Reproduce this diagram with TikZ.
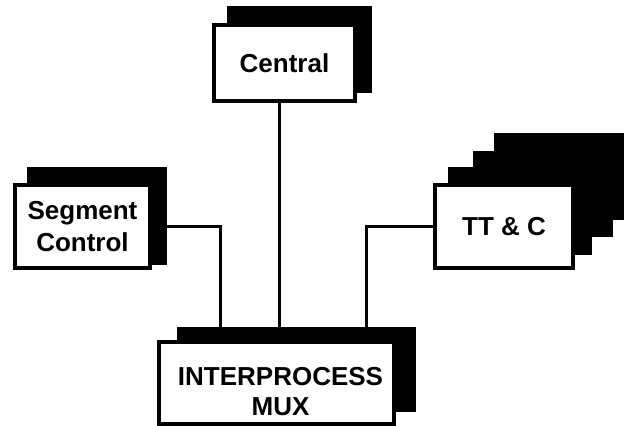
\documentclass[tikz,border=0pt]{standalone}
\usepackage{fontspec}
\setmainfont{Liberation Sans}
\usetikzlibrary{backgrounds}
\newcommand{\bx}{\bfseries\fontsize{19.5}{24}\selectfont}

\begin{document}
\begin{tikzpicture}[x=0.75pt,y=-0.75pt,
   box/.style={draw=black,line width=3pt,fill=white,inner sep=0pt,align=center,font=\bx},
   wire/.style={line width=2.25pt}]
   \useasboundingbox (0,0) rectangle (624,425);
   \node[box,minimum width=105.75pt,minimum height=57pt] (central) at (284.5,63) {Central};
   \node[box,minimum width=101.25pt,minimum height=62.25pt] (seg) at (82.5,226.5) {Segment\\Control};
   \node[box,minimum width=103.5pt,minimum height=62.25pt] (ttc) at (504,226.5) {TT \& C};
   \node[box,minimum width=176.25pt,minimum height=61.5pt] (mux) at (276.5,383) {};
   \node[font=\bx\fontsize{19.5}{22.5}\selectfont,align=center,inner sep=0pt] (muxtext) at (280.5,392) {INTERPROCESS\\MUX};
   \coordinate (muxa) at (220,340);
   \coordinate (muxb) at (279,340);
   \coordinate (muxc) at (366,340);
   \begin{scope}[on background layer]
      \draw[wire] (central.south -| muxb) -- (muxb);
      \draw[wire] (seg.east) -| (muxa);
      \draw[wire] (ttc.west) -| (muxc);
      \fill[black] (227,6) rectangle (372,93);
      \fill[black] (27,167) rectangle (167,265);
      \fill[black] (494,133) rectangle (634,220);
      \fill[black] (473,151) rectangle (613,237);
      \fill[black] (448,167) rectangle (592,255);
      \fill[black] (177,327) rectangle (416,412);
   \end{scope}
\end{tikzpicture}
\end{document}
